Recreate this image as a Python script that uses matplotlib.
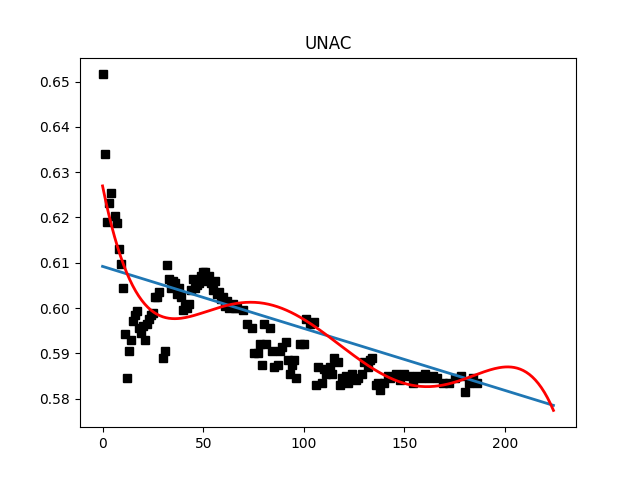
import numpy as np
import matplotlib.pyplot as plt

# scatter data
x = [0, 1, 2, 3, 4, 6, 7, 8, 9, 10, 11, 12, 13, 14, 15, 16, 17, 18, 19, 20,
     21, 22, 23, 24, 25, 26, 27, 28, 30, 31, 32, 33, 34, 35, 36, 37, 38, 39, 40,
     41, 42, 43, 44, 45, 46, 47, 48, 49, 50, 51, 52, 53, 54, 55, 56, 57, 58, 59,
     60, 61, 62, 63, 64, 65, 66, 67, 70, 72, 74, 75, 77, 78, 79, 80, 81, 83, 84,
     85, 87, 88, 89, 91, 92, 93, 94, 95, 96, 98, 100, 101, 103, 105, 106, 107,
     109, 110, 111, 113, 114, 115, 117, 118, 119, 121, 122, 124, 126, 127, 129,
     130, 132, 133, 134, 136, 137, 138, 140, 142, 143, 146, 148, 150, 152, 154,
     156, 158, 160, 162, 164, 166, 169, 172, 175, 178, 180, 182, 184, 186]
y = [0.6516, 0.6340, 0.6190, 0.6233, 0.6255, 0.6203, 0.6187, 0.6130, 0.6097, 0.6045,
     0.5943, 0.5846, 0.5905, 0.5930, 0.5972, 0.5985, 0.5994, 0.5955, 0.5945, 0.5960,
     0.5930, 0.5965, 0.5975, 0.5985, 0.5990, 0.6025, 0.6025, 0.6035, 0.5890, 0.5905,
     0.6095, 0.6065, 0.6045, 0.6060, 0.6055, 0.6030, 0.6045, 0.6025, 0.5995, 0.6005,
     0.6000, 0.6010, 0.6040, 0.6065, 0.6045, 0.6050, 0.6055, 0.6070, 0.6080, 0.6080,
     0.6060, 0.6070, 0.6055, 0.6040, 0.6060, 0.6030, 0.6035, 0.6020, 0.6025, 0.6005,
     0.6015, 0.6000, 0.6005, 0.6010, 0.6000, 0.6000, 0.5995, 0.5965, 0.5955, 0.5900,
     0.5900, 0.5920, 0.5875, 0.5965, 0.5920, 0.5955, 0.5905, 0.5870, 0.5875, 0.5905,
     0.5915, 0.5925, 0.5885, 0.5855, 0.5875, 0.5885, 0.5845, 0.5920, 0.5920, 0.5975,
     0.5965, 0.5970, 0.5830, 0.5870, 0.5835, 0.5865, 0.5855, 0.5870, 0.5855, 0.5890,
     0.5880, 0.5830, 0.5845, 0.5850, 0.5835, 0.5855, 0.5840, 0.5845, 0.5855, 0.5880,
     0.5870, 0.5885, 0.5890, 0.5830, 0.5835, 0.5820, 0.5835, 0.5850, 0.5845, 0.5855,
     0.5840, 0.5855, 0.5850, 0.5835, 0.5850, 0.5845, 0.5855, 0.5845, 0.5850, 0.5845,
     0.5835, 0.5835, 0.5845, 0.5850, 0.5815, 0.5835, 0.5845, 0.5835]

# linear trend (end values)
lin_x = [0, 224]
lin_y = [0.6092, 0.5785]

# polynomial trend, values
curve_x = [0, 4, 10, 16, 24, 34, 40, 50, 60, 70, 80, 90, 100, 110, 120, 130,
           140, 150, 160, 170, 180, 190, 200, 207, 214, 220, 224]
curve_y = [0.6282, 0.6195, 0.6080, 0.6023, 0.6005, 0.5987, 0.5984, 0.5997, 0.6005,
           0.6009, 0.6004, 0.5991, 0.5970, 0.5942, 0.5918, 0.5884, 0.5855, 0.5836,
           0.5826, 0.5828, 0.5840, 0.5857, 0.5870, 0.5870, 0.5846, 0.5810, 0.5773]

x_fit = np.linspace(0, 224, 300)
poly = np.polyfit(curve_x, curve_y, 5)

plt.figure()
plt.title("UNAC")
plt.plot(x, y, "ks")
plt.plot(lin_x, lin_y, linewidth=2)
plt.plot(x_fit, np.polyval(poly, x_fit), "r", linewidth=2)
plt.savefig("out.png")
plt.close()
